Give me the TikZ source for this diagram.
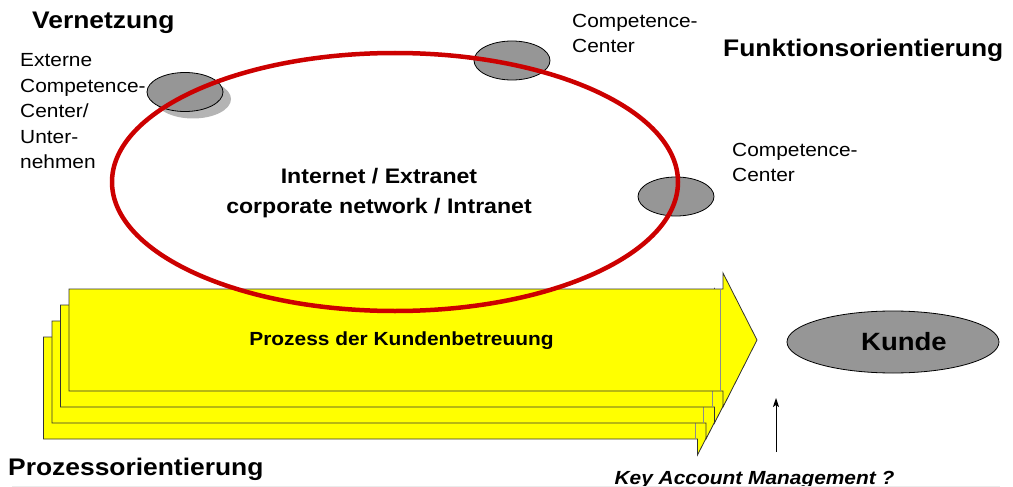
\documentclass[tikz,border=0pt]{standalone}
\usepackage{fontspec}
\setmainfont{Liberation Sans}[FakeStretch=1.1]
\usetikzlibrary{shapes.geometric,arrows.meta}
\definecolor{netred}{HTML}{CC0000}
\definecolor{ccgray}{HTML}{969696}
\definecolor{shadowgray}{HTML}{B4B4B4}
\definecolor{procyellow}{HTML}{FFFF00}
\definecolor{faintline}{HTML}{EBEBEB}
\begin{document}
\begin{tikzpicture}[x=1pt,y=-1pt,
  ccnode/.style={ellipse, draw=black, line width=0.8pt, fill=ccgray, minimum width=76pt, minimum height=39pt, inner sep=0pt},
  labeltext/.style={font=\fontsize{19}{25.5}\selectfont, align=left, anchor=north west, inner sep=0pt},
  headtext/.style={font=\fontsize{24}{28}\selectfont\bfseries, anchor=base west, inner sep=0pt},
  procarrow/.style={fill=procyellow, draw=black!80, line width=0.8pt, line join=miter},
  bodyedge/.style={draw=black!45, line width=0.8pt},
]
\useasboundingbox (0,0) rectangle (1013,487);

% stacked process arrows (back to front)
\foreach \k in {3,2,1,0}{
  \path[procarrow] ({69-8.5*\k},{289+16*\k}) -- ({723-8.5*\k},{289+16*\k}) -- ({723-8.5*\k},{273+16*\k})
     -- ({757-8.5*\k},{340+16*\k}) -- ({723-8.5*\k},{407+16*\k}) -- ({723-8.5*\k},{391+16*\k})
     -- ({69-8.5*\k},{391+16*\k}) -- cycle;
  \path[bodyedge] ({720.5-8.5*\k},{289+16*\k}) -- ({720.5-8.5*\k},{391+16*\k});
}
\node[font=\fontsize{19}{22}\selectfont\bfseries, anchor=base, inner sep=0pt] (proc) at (401.5,345) {Prozess der Kundenbetreuung};

% competence centers
\node[ellipse, fill=shadowgray, minimum width=76pt, minimum height=39pt, inner sep=0pt] (extshadow) at (193,99) {};
\node[ccnode] (extcc) at (185,92) {};
\node[ccnode] (cc1) at (512,60.5) {};
\node[ccnode] (cc2) at (676,196.5) {};

% network ellipse
\node[ellipse, draw=netred, line width=4.5pt, minimum width=566pt, minimum height=258pt, inner sep=0pt] (net) at (395,182) {};
\node[font=\fontsize{21}{30}\selectfont\bfseries, align=center, anchor=north, inner sep=0pt] (nettext) at (379,168) {Internet / Extranet\\corporate network / Intranet};

% customer
\node[ellipse, draw=black, line width=0.8pt, fill=ccgray, minimum width=212pt, minimum height=62pt, inner sep=0pt,
      font=\fontsize{25}{28}\selectfont\bfseries] (kunde) at (893,342) {\hspace*{22pt}Kunde};

% labels
\node[headtext] (vern) at (32,29) {Vernetzung};
\node[headtext] (funk) at (723,57) {Funktionsorientierung};
\node[headtext] (proz) at (8,475) {Prozessorientierung};
\node[labeltext] (extlabel) at (20,53.4) {Externe\\Competence-\\Center/\\Unter-\\nehmen};
\node[labeltext] (cc1label) at (572,14) {Competence-\\Center};
\node[labeltext] (cc2label) at (732,143) {Competence-\\Center};

% key account management
\node[font=\fontsize{19}{22}\selectfont\bfseries\itshape, anchor=base, inner sep=0pt] (kam) at (754.5,484) {Key Account Management ?};
\coordinate (kamfoot) at (776,452);
\coordinate (kamtip) at (776,398);
\draw[-{Stealth[length=9pt,width=6pt,inset=2pt]}, line width=0.9pt] (kamfoot) -- (kamtip);

% faint bottom rule
\draw[faintline, line width=1pt] (12,486) -- (1000,486);
\end{tikzpicture}
\end{document}
